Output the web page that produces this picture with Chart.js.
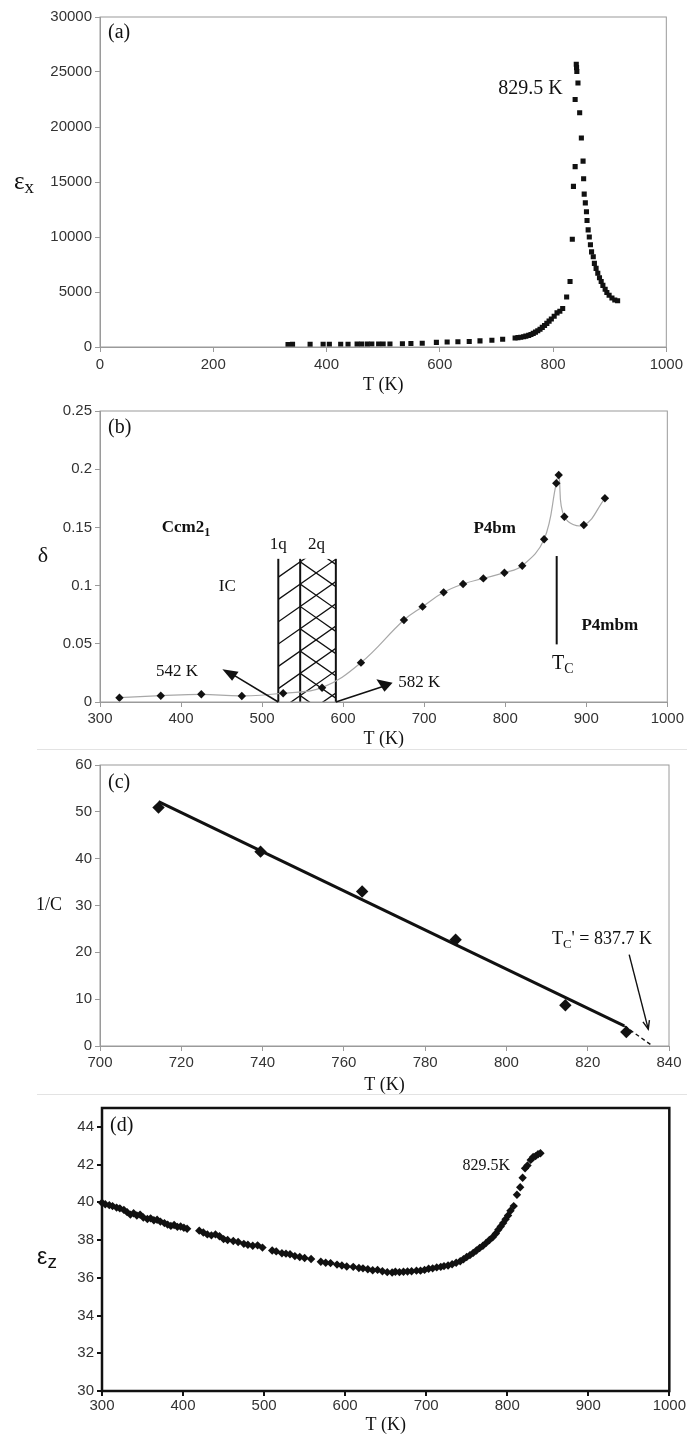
<!DOCTYPE html>
<html>
<head>
<meta charset="utf-8">
<title>Dielectric and structural data vs temperature</title>
<script src="https://cdn.jsdelivr.net/npm/chart.js@4.4.1/dist/chart.umd.min.js"></script>
<style>
  body { margin: 0; background: #fff; }
  #page { position: relative; width: 687px; height: 1436px; overflow: hidden; background: #fff; }
  canvas { position: absolute; left: 0; }
  .sep { position: absolute; left: 37px; width: 650px; height: 1px; background: #e3e3e3; }
</style>
</head>
<body>
<div id="page">
  <canvas id="chA" width="687" height="396" style="top:0"></canvas>
  <canvas id="chB" width="687" height="354" style="top:396px"></canvas>
  <canvas id="chC" width="687" height="346" style="top:750px"></canvas>
  <canvas id="chD" width="687" height="340" style="top:1096px"></canvas>
  <div class="sep" style="top:749px"></div>
  <div class="sep" style="top:1094px"></div>
</div>
<script>
/* ---------- (a) eps_x vs T ---------- */
var aTemp = [332, 340, 371, 394, 405, 425, 438, 454, 462, 472, 480, 492, 500, 512, 534, 549, 569, 594, 613, 632,
  652, 671, 692, 711, 733, 738, 743, 748, 752, 757, 761, 765, 769, 773, 777, 781, 785, 789, 793, 797,
  802, 807, 812, 817, 824, 830, 834, 836, 839, 839, 841, 841.5, 842, 844, 847, 850, 853, 854, 855, 857,
  859, 860, 862, 864, 866, 868, 871, 873, 876, 879, 882, 885, 888, 892, 895, 899, 904, 909, 914];
var aEps = [230, 235, 240, 245, 248, 252, 255, 258, 260, 263, 266, 270, 272, 278, 300, 315, 335, 420, 460, 480,
  500, 560, 620, 700, 820, 850, 880, 930, 990, 1060, 1140, 1240, 1350, 1480, 1620, 1780, 1950, 2150, 2350, 2550,
  2800, 3100, 3250, 3500, 4550, 5950, 9800, 14600, 16400, 22500, 25700, 25400, 25050, 24000, 21300, 19000, 16900, 15300, 13900, 13100,
  12300, 11500, 10650, 10000, 9300, 8650, 8200, 7600, 7150, 6700, 6300, 5950, 5600, 5250, 4950, 4700, 4450, 4270, 4200];
var aXTicks = [0, 1000, 200];
var aYTicks = [0, 30000, 5000];

/* ---------- (b) delta vs T ---------- */
var bTemp = [324, 375, 425, 475, 526, 574, 622, 675, 698, 724, 748, 773, 799, 821, 848, 863, 866, 873, 897, 923];
var bDelta = [0.0037, 0.0054, 0.0066, 0.0052, 0.0075, 0.0123, 0.0338, 0.0705, 0.0819, 0.0942,
  0.1014, 0.1062, 0.1111, 0.1171, 0.1398, 0.1879, 0.1950, 0.1592, 0.1520, 0.1750];
var bXTicks = [300, 1000, 100];
var bYTicks = [0, 0.25, 0.05];
var bBounds = [520, 547, 591];   // edges of the 1q / 2q bands
var bBandTop = 0.123;
var bTc = 863.5;

/* ---------- (c) 1/C vs T ---------- */
var cTemp = [714.4, 739.5, 764.5, 787.5, 814.5, 829.5];
var cInv = [50.9, 41.5, 33.0, 22.7, 8.7, 3.0];
var cFitTemp = [714.4, 829];
var cFitInv = [52.2, 4.3];
var cExtTemp = [829, 835.5];
var cExtInv = [4.3, 0.3];
var cXTicks = [700, 840, 20];
var cYTicks = [0, 60, 10];

/* ---------- (d) eps_z vs T ---------- */
var dTemp = [300, 304, 309, 313, 318, 322, 327, 331, 335, 339, 343, 347, 351, 356, 360, 364, 368, 372, 377, 381,
  385, 389, 393, 397, 401, 405, 420, 425, 430, 435, 440, 445, 450, 455, 462, 468, 475, 480, 486, 492,
  498, 510, 515, 522, 527, 532, 538, 544, 550, 558, 570, 576, 582, 590, 596, 602, 610, 617, 622, 628,
  634, 640, 646, 652, 658, 662, 667, 672, 677, 682, 688, 693, 698, 703, 708, 713, 718, 722, 727, 732,
  737, 742, 746, 750, 754, 758, 762, 766, 770, 774, 778, 782, 786, 789, 792, 795, 798, 801, 804, 808,
  812, 816, 819, 822, 825, 829, 832, 835, 838, 841];
var dEps = [39.98, 39.9, 39.85, 39.8, 39.72, 39.68, 39.6, 39.48, 39.35, 39.42, 39.3, 39.35, 39.2, 39.12, 39.15, 39.05, 39.08, 38.98, 38.9, 38.82,
  38.75, 38.8, 38.7, 38.72, 38.65, 38.6, 38.5, 38.4, 38.3, 38.25, 38.3, 38.2, 38.05, 38.0, 37.95, 37.9, 37.8, 37.75, 37.7, 37.72,
  37.6, 37.45, 37.4, 37.3, 37.28, 37.25, 37.15, 37.1, 37.05, 37.0, 36.85, 36.8, 36.78, 36.7, 36.65, 36.6, 36.58, 36.52, 36.5, 36.45,
  36.4, 36.42, 36.35, 36.3, 36.28, 36.32, 36.3, 36.32, 36.33, 36.35, 36.38, 36.38, 36.42, 36.48, 36.5, 36.55, 36.58, 36.62, 36.65, 36.72,
  36.8, 36.88, 36.98, 37.1, 37.2, 37.32, 37.45, 37.58, 37.7, 37.85, 38.0, 38.15, 38.35, 38.55, 38.72, 38.9, 39.1, 39.3, 39.55, 39.8,
  40.4, 40.8, 41.3, 41.8, 41.95, 42.25, 42.4, 42.45, 42.55, 42.6];
var dXTicks = [300, 1000, 100];
var dYTicks = [30, 45, 2];

var SANS = '"Liberation Sans", Arial, sans-serif';
var SERIF = '"Liberation Serif", "Times New Roman", serif';

function pts(xs, ys) {
  return xs.map(function (x, i) { return { x: x, y: ys[i] }; });
}

function X(ch, v) { return ch.scales.x.getPixelForValue(v); }
function Y(ch, v) { return ch.scales.y.getPixelForValue(v); }

// parts: [text, size, dy]
function rich(ctx, x, y, parts, fam, weight, align) {
  var w = 0;
  parts.forEach(function (p) {
    ctx.font = (weight || '') + ' ' + p[1] + 'px ' + fam;
    w += ctx.measureText(p[0]).width;
  });
  var cx = align === 'left' ? x : (align === 'right' ? x - w : x - w / 2);
  ctx.textAlign = 'left';
  ctx.textBaseline = 'middle';
  ctx.fillStyle = '#111';
  parts.forEach(function (p) {
    ctx.font = (weight || '') + ' ' + p[1] + 'px ' + fam;
    ctx.fillText(p[0], cx, y + p[2]);
    cx += ctx.measureText(p[0]).width;
  });
}

function tri(ctx, ch, p) {
  ctx.beginPath();
  ctx.moveTo(X(ch, p[0][0]), Y(ch, p[0][1]));
  ctx.lineTo(X(ch, p[1][0]), Y(ch, p[1][1]));
  ctx.lineTo(X(ch, p[2][0]), Y(ch, p[2][1]));
  ctx.closePath();
  ctx.fill();
}

function seg(ctx, ch, a, b) {
  ctx.beginPath();
  ctx.moveTo(X(ch, a[0]), Y(ch, a[1]));
  ctx.lineTo(X(ch, b[0]), Y(ch, b[1]));
  ctx.stroke();
}

function axes(xr, yr, o) {
  var tickFont = { family: SANS, size: 15 };
  var y = {
    type: 'linear', min: yr[0], max: yr[1],
    ticks: { stepSize: yr[2], color: '#333', font: tickFont, padding: 3,
      callback: function (v) { return String(v); } },
    grid: { drawOnChartArea: false, tickLength: 5, color: o.line, lineWidth: o.lw },
    border: { color: o.line, width: o.lw },
    afterFit: function (s) { s.width = o.yw; }
  };
  if (o.ycut) {
    y.afterBuildTicks = function (s) {
      s.ticks = s.ticks.filter(function (t) { return t.value <= o.ycut; });
    };
  }
  return {
    x: {
      type: 'linear', min: xr[0], max: xr[1],
      ticks: { stepSize: xr[2], color: '#333', font: tickFont, padding: o.xpad, maxRotation: 0, autoSkip: false,
        callback: function (v) { return String(v); } },
      grid: { drawOnChartArea: false, tickLength: 5, color: o.line, lineWidth: o.lw },
      border: { color: o.line, width: o.lw },
      title: { display: true, text: 'T (K)', color: '#111', font: { family: SERIF, size: 18 }, padding: 0 },
      afterFit: function (s) { s.height = o.xh; }
    },
    y: y
  };
}

function opts(xr, yr, o) {
  return {
    responsive: false,
    animation: false,
    events: [],
    layout: { padding: { left: 0, right: o.right, top: o.top, bottom: 0 } },
    plugins: { legend: { display: false }, tooltip: { enabled: false } },
    scales: axes(xr, yr, o)
  };
}

/* extra drawing per panel: frame, labels, arrows, hatch */
var decor = {
  chA: {
    frame: ['#9a9a9a', 1],
    over: function (ctx, ch) {
      var a = ch.chartArea;
      rich(ctx, a.left + 8, a.top + 16, [['(a)', 20, 0]], SERIF, '', 'left');
      rich(ctx, X(ch, 817), Y(ch, 23490), [['829.5 K', 20, 0]], SERIF, '', 'right');
      rich(ctx, 24, (a.top + a.bottom) / 2, [['ε', 25, 0], ['x', 19, 6]], SERIF, '', 'center');
    }
  },
  chB: {
    frame: ['#9a9a9a', 1],
    under: function (ctx, ch) {
      var x0 = X(ch, bBounds[0]), x1 = X(ch, bBounds[1]), x2 = X(ch, bBounds[2]);
      var y0 = Y(ch, 0), yt = Y(ch, bBandTop);
      var k = 0.7, gap = 22.3;
      ctx.strokeStyle = '#111';
      ctx.lineWidth = 1.3;
      ctx.save();
      ctx.beginPath(); ctx.rect(x0, yt, x2 - x0, y0 - yt); ctx.clip();
      ctx.beginPath();
      for (var yy = yt + 3 - 4 * gap; yy < y0 + 4 * gap; yy += gap) {
        ctx.moveTo(x0, yy + k * (x1 - x0));
        ctx.lineTo(x2, yy - k * (x2 - x1));
      }
      ctx.stroke();
      ctx.beginPath(); ctx.rect(x1, yt, x2 - x1, y0 - yt); ctx.clip();
      ctx.beginPath();
      for (var y2 = yt + 3 - 4 * gap; y2 < y0 + 4 * gap; y2 += gap) {
        ctx.moveTo(x1, y2);
        ctx.lineTo(x2, y2 + k * (x2 - x1));
      }
      ctx.stroke();
      ctx.restore();
      ctx.lineWidth = 2;
      bBounds.forEach(function (b) { seg(ctx, ch, [b, 0], [b, bBandTop]); });
    },
    over: function (ctx, ch) {
      var a = ch.chartArea;
      ctx.strokeStyle = '#111';
      ctx.fillStyle = '#111';
      ctx.lineWidth = 2;
      seg(ctx, ch, [bTc, 0.1254], [bTc, 0.0495]);
      ctx.lineWidth = 1.6;
      seg(ctx, ch, [bBounds[0], 0], [463, 0.024]);
      tri(ctx, ch, [[451, 0.0281], [471, 0.026], [463, 0.0183]]);
      seg(ctx, ch, [bBounds[2], 0], [650, 0.0135]);
      tri(ctx, ch, [[641, 0.0195], [661, 0.0166], [651, 0.0088]]);
      rich(ctx, a.left + 8, a.top + 17, [['(b)', 20, 0]], SERIF, '', 'left');
      rich(ctx, X(ch, 406), Y(ch, 0.1495), [['Ccm2', 17, 0], ['1', 12, 5]], SERIF, 'bold', 'center');
      rich(ctx, X(ch, 520), Y(ch, 0.135), [['1q', 17, 0]], SERIF, '', 'center');
      rich(ctx, X(ch, 567), Y(ch, 0.135), [['2q', 17, 0]], SERIF, '', 'center');
      rich(ctx, X(ch, 457), Y(ch, 0.099), [['IC', 17, 0]], SERIF, '', 'center');
      rich(ctx, X(ch, 787), Y(ch, 0.1486), [['P4bm', 17, 0]], SERIF, 'bold', 'center');
      rich(ctx, X(ch, 929), Y(ch, 0.0656), [['P4mbm', 17, 0]], SERIF, 'bold', 'center');
      rich(ctx, X(ch, 871), Y(ch, 0.0332), [['T', 20, 0], ['C', 14, 6]], SERIF, '', 'center');
      rich(ctx, X(ch, 395), Y(ch, 0.0266), [['542 K', 17, 0]], SERIF, '', 'center');
      rich(ctx, X(ch, 668), Y(ch, 0.0166), [['582 K', 17, 0]], SERIF, '', 'left');
      rich(ctx, 43, (a.top + a.bottom) / 2, [['δ', 22, 0]], SERIF, '', 'center');
    }
  },
  chC: {
    frame: ['#9a9a9a', 1],
    over: function (ctx, ch) {
      var a = ch.chartArea;
      rich(ctx, a.left + 8, a.top + 18, [['(c)', 20, 0]], SERIF, '', 'left');
      rich(ctx, X(ch, 823.5), Y(ch, 22.7), [['T', 18, 0], ['C', 13, 5], ['\' = 837.7 K', 18, 0]], SERIF, '', 'center');
      ctx.strokeStyle = '#111';
      ctx.lineWidth = 1.4;
      var x1 = X(ch, 830.2), y1 = Y(ch, 19.5), x2 = X(ch, 834.9), y2 = Y(ch, 3.6);
      ctx.beginPath(); ctx.moveTo(x1, y1); ctx.lineTo(x2, y2); ctx.stroke();
      var t = Math.atan2(y2 - y1, x2 - x1), L = 9, ang = 0.38;
      ctx.beginPath();
      ctx.moveTo(x2 - L * Math.cos(t - ang), y2 - L * Math.sin(t - ang));
      ctx.lineTo(x2, y2);
      ctx.lineTo(x2 - L * Math.cos(t + ang), y2 - L * Math.sin(t + ang));
      ctx.stroke();
      rich(ctx, 49, (a.top + a.bottom) / 2, [['1/C', 18, 0]], SERIF, '', 'center');
    }
  },
  chD: {
    frame: ['#111', 2.5],
    over: function (ctx, ch) {
      var a = ch.chartArea;
      rich(ctx, a.left + 8, a.top + 18, [['(d)', 20, 0]], SERIF, '', 'left');
      rich(ctx, X(ch, 774), Y(ch, 41.95), [['829.5K', 16, 0]], SERIF, '', 'center');
      rich(ctx, 47, (a.top + a.bottom) / 2 + 8, [['ε', 23, 0], ['z', 19, 5]], SANS, '', 'center');
    }
  }
};

Chart.register({
  id: 'decor',
  beforeDatasetsDraw: function (ch) {
    var d = decor[ch.canvas.id];
    if (d && d.under) { ch.ctx.save(); d.under(ch.ctx, ch); ch.ctx.restore(); }
  },
  afterDraw: function (ch) {
    var d = decor[ch.canvas.id];
    if (!d) return;
    var ctx = ch.ctx, a = ch.chartArea;
    ctx.save();
    ctx.strokeStyle = d.frame[0];
    ctx.lineWidth = d.frame[1];
    ctx.strokeRect(a.left, a.top, a.right - a.left, a.bottom - a.top);
    ctx.restore();
    ctx.save(); d.over(ctx, ch); ctx.restore();
  }
});

new Chart(document.getElementById('chA'), {
  type: 'scatter',
  data: { datasets: [{
    data: pts(aTemp, aEps), pointStyle: 'rect', pointRadius: 3.6,
    backgroundColor: '#111', borderWidth: 0
  }] },
  options: opts(aXTicks, aYTicks, { yw: 100, xh: 49, top: 17, right: 18, xpad: 4, line: '#9a9a9a', lw: 1 })
});

new Chart(document.getElementById('chB'), {
  type: 'scatter',
  data: { datasets: [{
    data: pts(bTemp, bDelta), showLine: true, tension: 0.4,
    borderColor: '#a8a8a8', borderWidth: 1.2,
    pointStyle: 'rectRot', pointRadius: 4.2,
    pointBackgroundColor: '#111', pointBorderColor: '#111', pointBorderWidth: 0
  }] },
  options: opts(bXTicks, bYTicks, { yw: 100, xh: 48, top: 15, right: 19, xpad: 3, line: '#9a9a9a', lw: 1 })
});

new Chart(document.getElementById('chC'), {
  type: 'scatter',
  data: { datasets: [{
    data: pts(cTemp, cInv), pointStyle: 'rectRot', pointRadius: 6.2,
    backgroundColor: '#111', borderWidth: 0
  }, {
    data: pts(cFitTemp, cFitInv), showLine: true, borderColor: '#111', borderWidth: 3, pointRadius: 0
  }, {
    data: pts(cExtTemp, cExtInv), showLine: true, borderColor: '#111', borderWidth: 1.4,
    borderDash: [4, 3], pointRadius: 0
  }] },
  options: opts(cXTicks, cYTicks, { yw: 100, xh: 50, top: 15, right: 18, xpad: 3, line: '#9a9a9a', lw: 1 })
});

new Chart(document.getElementById('chD'), {
  type: 'scatter',
  data: { datasets: [{
    data: pts(dTemp, dEps), pointStyle: 'rectRot', pointRadius: 4.2,
    backgroundColor: '#111', borderWidth: 0, clip: false
  }] },
  options: opts(dXTicks, dYTicks, { yw: 102, xh: 45, top: 9, right: 17, xpad: 1, line: '#111', lw: 2, ycut: 44 })
});
</script>
</body>
</html>
